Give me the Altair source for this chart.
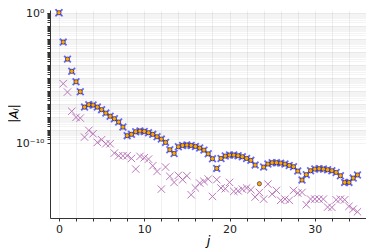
import altair as alt
import pandas as pd

# step index j (half-unit steps 0 .. 35)
j_vals = [k * 0.5 for k in range(71)]

# |A_j| main series (blue crosses / orange circles)
blue_vals = [1.0, 5.5e-3, 2.7e-4, 3.1e-5, 4.9e-6, 8.4e-7, 5.5e-8, 8.4e-8, 7.9e-8, 5.5e-8,
             3.5e-8, 1.9e-8, 1.1e-8, 7.0e-9, 3.9e-9, 1.6e-9, 3.5e-10, 4.4e-10, 7.0e-10, 7.9e-10,
             7.4e-10, 5.9e-10, 4.4e-10, 2.9e-10, 1.9e-10, 1.06e-10, 2.9e-11, 1.5e-11, 4.9e-11, 6.2e-11,
             6.6e-11, 6.2e-11, 5.2e-11, 3.9e-11, 2.7e-11, 1.4e-11, 5.9e-12, 1.06e-12, 6.2e-12, 9.4e-12,
             1.12e-11, 1.12e-11, 1.0e-11, 8.4e-12, 6.2e-12, 4.4e-12, 1.9e-12, None, 1.34e-12, 2.3e-12,
             2.9e-12, 2.9e-12, 2.7e-12, 2.3e-12, 1.8e-12, 1.43e-12, 6.6e-13, 1.34e-13, 3.5e-13, 7.0e-13,
             9.4e-13, 1.0e-12, 9.4e-13, 8.4e-13, 7.0e-13, 5.2e-13, 2.9e-13, 8.9e-14, 8.9e-14, 1.9e-13,
             3.3e-13]
orange_vals = blue_vals[:47] + [7.0e-14] + blue_vals[48:]

purple_vals = [1.0, 3.5e-6, 7.9e-7, 2.6e-8, 8.9e-9, 7.9e-9, 2.7e-10, 8.9e-10, 4.9e-10, 1.06e-10,
               1.7e-10, 8.4e-11, 8.4e-11, 1.6e-11, 1.0e-11, 1.0e-11, 1.0e-11, 6.2e-12, 9.4e-13, 8.9e-12,
               7.0e-12, 5.5e-12, 1.7e-12, 6.2e-13, 2.7e-14, 1.34e-12, 2.6e-13, 8.9e-14, 3.1e-13, 1.43e-13,
               2.9e-13, 1.0e-14, 3.3e-14, 7.9e-14, 1.06e-13, 1.6e-13, 7.4e-15, 1.43e-13, 3.3e-14, 2.9e-14,
               8.9e-14, 1.8e-14, 2.0e-14, 2.7e-14, 3.3e-14, 2.4e-14, 6.6e-15, 1.5e-14, 4.6e-15, 6.6e-14,
               1.12e-14, 2.15e-14, 3.7e-15, 4.6e-15, 3.7e-15, 2.15e-14, 1.34e-14, 1.5e-14, 1.7e-15, 4.6e-15,
               4.6e-15, 4.6e-15, 4.6e-15, 1.12e-15, 1.06e-15, 4.1e-15, 4.6e-15, 4.1e-15, 1.27e-15, 7.9e-16,
               4.9e-16]

x_ticks = list(range(0, 35, 2))
y_ticks = [1.0] + [m * 10.0 ** k for k in range(-10, 0) for m in range(1, 10)]

df_blue = pd.DataFrame({"j": j_vals, "A": blue_vals}).dropna()
df_orange = pd.DataFrame({"j": j_vals, "A": orange_vals}).dropna()
df_purple = pd.DataFrame({"j": j_vals, "A": purple_vals}).dropna()

xs = alt.Scale(domain=[-1.05, 36.0], nice=False, zero=False)
ys = alt.Scale(type="log", domain=[10 ** -15.79, 10 ** 0.21], nice=False)

x_axis = alt.Axis(values=x_ticks, tickCount=500, grid=True, gridColor="#000000", gridOpacity=0.06,
                  format="d",
                  labelExpr="datum.value % 10 == 0 ? datum.label : ''",
                  labelOverlap=False,
                  title="j", titleFontStyle="italic", titleFontWeight="normal",
                  titleFontSize=13, titlePadding=0, labelPadding=2,
                  tickSize=3, tickColor="#333333", domainColor="#333333",
                  labelFontSize=11, labelColor="#222222", labelFlush=False)
y_axis = alt.Axis(values=y_ticks, tickCount=500, grid=True, gridColor="#000000", gridOpacity=0.045,
                  labelExpr="datum.value > 0.99 ? '10⁰' : (datum.value > 0.99e-10 && datum.value < 1.01e-10 ? '10⁻¹⁰' : '')",
                  title="|Aⱼ|", titleFontWeight="normal", titleFontStyle="italic", titleFontSize=12,
                  titleX=-37, titleY=103, titleAngle=270, titleAlign="center", titleBaseline="middle",
                  labelPadding=3, labelOffset=1, tickSize=3, tickColor="#333333", domainColor="#333333",
                  labelFontSize=11, labelColor="#222222", labelFlush=False, labelOverlap=False)

xshape = "M-1,-1L1,1M-1,1L1,-1"

purple = alt.Chart(df_purple).mark_point(shape=xshape, filled=False, color="#a64ca6",
                                         strokeWidth=1, size=55, opacity=0.75).encode(
    x=alt.X("j:Q", scale=xs, axis=x_axis),
    y=alt.Y("A:Q", scale=ys, axis=y_axis),
)
blue = alt.Chart(df_blue).mark_point(shape=xshape, filled=False, color="#4d4dff",
                                     strokeWidth=1.8, size=45, opacity=0.85).encode(
    x="j:Q", y="A:Q")
orange = alt.Chart(df_orange).mark_point(shape="circle", filled=True, fill="#ffa500",
                                         stroke="#1a1a55", strokeWidth=0.6, size=18,
                                         opacity=1).encode(
    x="j:Q", y="A:Q")

chart = alt.layer(purple, blue, orange).properties(
    width=316, height=208,
    autosize=alt.AutoSizeParams(type="none"),
    padding={"left": 42, "top": 2, "right": 0, "bottom": 31},
).configure_view(stroke=None).configure_axis(labelFont="DejaVu Sans", titleFont="DejaVu Sans")

chart.save("out.html", embed_options={"renderer": "svg", "actions": False})
